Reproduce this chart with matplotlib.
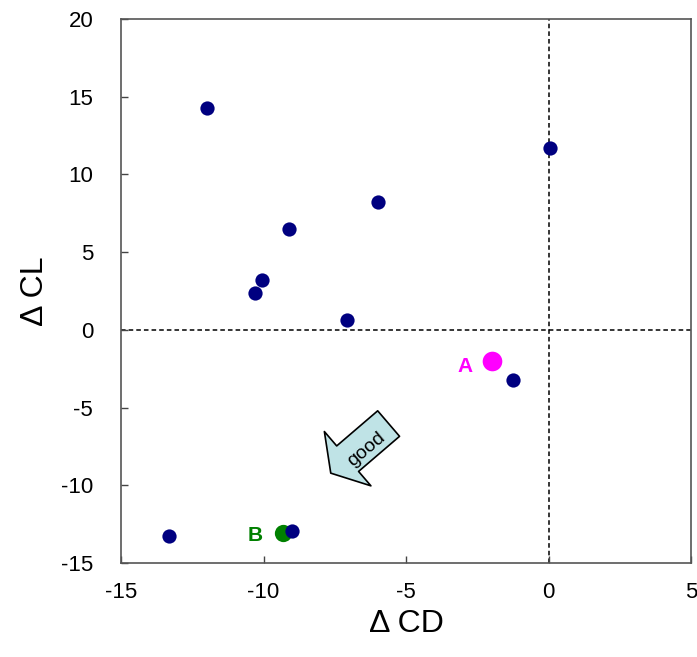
import matplotlib
matplotlib.use('Agg')
import matplotlib.pyplot as plt

plt.rcParams['font.family'] = ['Liberation Sans', 'DejaVu Sans']
plt.rcParams['axes.unicode_minus'] = False

# dados
cd = [-11.99, 0.06, -6.0, -9.12, -10.06, -10.31, -7.08, -1.23, -13.32, -9.01]
cl = [14.25, 11.73, 8.25, 6.51, 3.22, 2.39, 0.64, -3.22, -13.28, -12.96]
ponto_a = (-1.97, -2.0)
ponto_b = (-9.33, -13.09)
xticks = [-15, -10, -5, 0, 5]
yticks = [-15, -10, -5, 0, 5, 10, 15, 20]

fig = plt.figure(figsize=(6.97, 6.57), dpi=100)
ax = fig.add_axes([0.1736, 0.1431, 0.8178, 0.828])

ax.axhline(0, color='black', lw=1.1, ls=(0, (3, 2)), zorder=1)
ax.axvline(0, color='black', lw=1.1, ls=(0, (3, 2)), zorder=1)

ax.scatter(ponto_b[0], ponto_b[1], s=155, color='#008000', zorder=3, linewidths=0)
ax.scatter(cd, cl, s=105, color='#000080', zorder=4, linewidths=0)
ax.scatter(ponto_a[0], ponto_a[1], s=200, color='#ff00ff', zorder=5, linewidths=0)

ax.text(ponto_a[0] - 0.95, ponto_a[1] - 0.35, 'A', color='#ff00ff', fontsize=15,
        fontweight='bold', ha='center', va='center')
ax.text(ponto_b[0] - 0.95, ponto_b[1] - 0.15, 'B', color='#008000', fontsize=15,
        fontweight='bold', ha='center', va='center')

# seta "good"
ax.annotate('', xy=(-7.64, -9.22), xytext=(-5.61, -6.03),
            arrowprops=dict(arrowstyle='simple,head_width=5.15,head_length=1.6,tail_width=2.42',
                            mutation_scale=10, fc='#bfe3e6', ec='black', lw=1.2,
                            shrinkA=0, shrinkB=0), zorder=6)
ax.text(-6.4, -7.7, 'good', rotation=40, fontsize=14, ha='center', va='center',
        zorder=7)

ax.set_xlim(-15, 5)
ax.set_ylim(-15, 20)
ax.set_xticks(xticks)
ax.set_yticks(yticks)
ax.tick_params(direction='in', length=5, width=1, labelsize=16, color='#444444')
ax.tick_params(axis='x', pad=14)
ax.tick_params(axis='y', pad=20)
for s in ax.spines.values():
    s.set_color('#555555')
    s.set_linewidth(1.2)

ax.set_xlabel('Δ CD', fontsize=23, labelpad=4)
ax.set_ylabel('Δ CL', fontsize=23, labelpad=8)

fig.savefig('out.png', dpi=100)
